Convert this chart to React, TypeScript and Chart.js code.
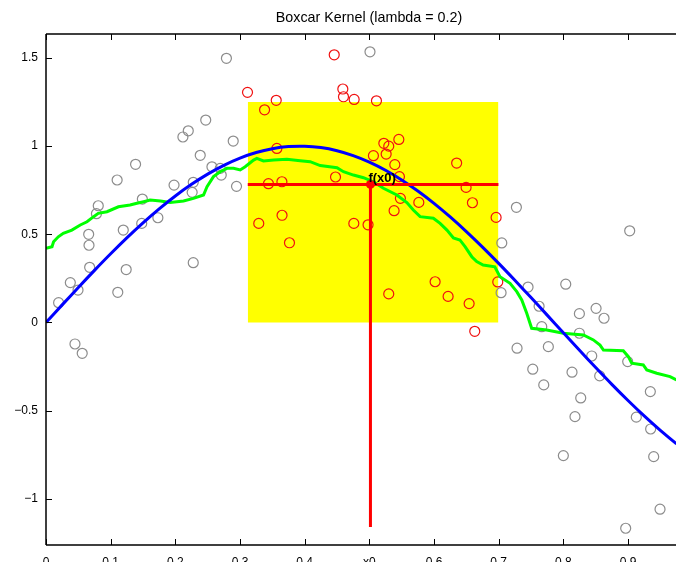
import React, { useEffect, useRef } from "react";
import { Chart, registerables } from "chart.js";

Chart.register(...registerables);

const TITLE = "Boxcar Kernel (lambda = 0.2)";

const X_MIN = 0;
const X_MAX = 0.9742;
const Y_MIN = -1.262;
const Y_MAX = 1.636;

const X_TICKS = [0, 0.1, 0.2, 0.3, 0.4, 0.5, 0.6, 0.7, 0.8, 0.9];
const X_TICK_LABELS = ["0", "0.1", "0.2", "0.3", "0.4", "x0", "0.6", "0.7", "0.8", "0.9"];
const Y_TICKS = [-1, -0.5, 0, 0.5, 1, 1.5];
const Y_TICK_LABELS = ["\u22121", "\u22120.5", "0", "0.5", "1", "1.5"];

// Observations outside the kernel window (gray)
const outsideX = [
  0.0195, 0.0376, 0.0448, 0.0495, 0.056, 0.066, 0.0665, 0.0675, 0.078, 0.0808,
  0.11, 0.111, 0.1195, 0.124, 0.1385, 0.148, 0.149, 0.173, 0.198, 0.2117,
  0.22, 0.226, 0.2277, 0.2277, 0.2385, 0.247, 0.2566, 0.2694, 0.271, 0.279,
  0.2895, 0.2946, 0.501, 0.7048, 0.7037, 0.7274, 0.7284, 0.7454, 0.7527, 0.7625,
  0.7666, 0.7697, 0.7768, 0.8, 0.8037, 0.8134, 0.818, 0.8248, 0.8248, 0.8269,
  0.8439, 0.8506, 0.8562, 0.8629, 0.8964, 0.8995, 0.9026, 0.9128, 0.9345, 0.935,
  0.9397, 0.9495,
];
const outsideY = [
  0.112, 0.226, -0.122, 0.184, -0.175, 0.5, 0.438, 0.313, 0.617, 0.662,
  0.808, 0.171, 0.524, 0.3, 0.897, 0.562, 0.7, 0.594, 0.779, 1.052,
  1.087, 0.738, 0.795, 0.339, 0.948, 1.148, 0.883, 0.874, 0.836, 1.498,
  1.029, 0.772, 1.535, 0.451, 0.169, 0.653, -0.146, 0.201, -0.265, 0.092,
  -0.024, -0.354, -0.137, -0.755, 0.217, -0.282, -0.534, 0.05, -0.061, -0.428,
  -0.19, 0.08, -0.303, 0.024, -1.167, -0.222, 0.52, -0.537, -0.392, -0.604,
  -0.761, -1.059,
];

// Observations inside the kernel window (red)
const insideX = [
  0.3116, 0.329, 0.338, 0.344, 0.356, 0.357, 0.3648, 0.365, 0.3765, 0.4457,
  0.4477, 0.459, 0.46, 0.4765, 0.476, 0.498, 0.5063, 0.511, 0.5224, 0.526,
  0.53, 0.53, 0.5383, 0.5394, 0.5456, 0.5465, 0.548, 0.5765, 0.6017, 0.6218,
  0.635, 0.6496, 0.6543, 0.6594, 0.663, 0.696, 0.6986,
];
const insideY = [
  1.305, 0.562, 1.206, 0.787, 1.26, 0.987, 0.798, 0.608, 0.452, 1.518,
  0.825, 1.324, 1.28, 1.265, 0.562, 0.554, 0.946, 1.257, 1.016, 0.955,
  1.0, 0.162, 0.634, 0.895, 1.038, 0.827, 0.704, 0.681, 0.231, 0.148,
  0.904, 0.766, 0.107, 0.679, -0.05, 0.596, 0.23,
];

// True function (blue curve)
const trueX = [
  0, 0.025, 0.05, 0.075, 0.1, 0.125, 0.15, 0.175, 0.2, 0.225,
  0.25, 0.275, 0.3, 0.325, 0.35, 0.375, 0.4, 0.425, 0.45, 0.475,
  0.5, 0.525, 0.55, 0.575, 0.6, 0.625, 0.65, 0.675, 0.7, 0.725,
  0.75, 0.775, 0.8, 0.825, 0.85, 0.875, 0.9, 0.925, 0.95, 0.975, 1.0,
];
const trueY = [
  0, 0.0998, 0.1987, 0.2955, 0.3894, 0.4794, 0.5646, 0.6442, 0.7174, 0.7833,
  0.8415, 0.8912, 0.932, 0.9636, 0.9854, 0.9975, 0.9996, 0.9917, 0.9738, 0.9463,
  0.9093, 0.8632, 0.8085, 0.7457, 0.6755, 0.5985, 0.5155, 0.4274, 0.335, 0.2392,
  0.1411, 0.0416, -0.0584, -0.1577, -0.2555, -0.3508, -0.4425, -0.5298, -0.6119, -0.6878, -0.7568,
];

// Boxcar kernel smoother (green curve)
const smoothX = [
  0.0, 0.0093, 0.0117, 0.019, 0.0267, 0.04, 0.053, 0.0634, 0.0736, 0.0808,
  0.0943, 0.112, 0.13, 0.1406, 0.151, 0.161, 0.177, 0.192, 0.2127, 0.228,
  0.2436, 0.249, 0.259, 0.2694, 0.2798, 0.29, 0.3003, 0.308, 0.321, 0.326,
  0.3363, 0.352, 0.3725, 0.393, 0.4085, 0.424, 0.45, 0.46, 0.4754, 0.491,
  0.5063, 0.5218, 0.5425, 0.558, 0.568, 0.5785, 0.599, 0.6094, 0.62, 0.63,
  0.64, 0.648, 0.6584, 0.666, 0.676, 0.694, 0.702, 0.7176, 0.728, 0.7357,
  0.7434, 0.751, 0.7743, 0.8, 0.831, 0.8464, 0.8567, 0.862, 0.8927, 0.9005,
  0.9057, 0.9236, 0.929, 0.9444, 0.965, 0.975,
];
const smoothY = [
  0.421, 0.43, 0.458, 0.486, 0.506, 0.524, 0.553, 0.571, 0.6, 0.619,
  0.628, 0.656, 0.666, 0.676, 0.685, 0.694, 0.689, 0.681, 0.689, 0.704,
  0.723, 0.77, 0.827, 0.855, 0.874, 0.874, 0.865, 0.883, 0.921, 0.931,
  0.916, 0.921, 0.925, 0.917, 0.912, 0.89, 0.878, 0.855, 0.836, 0.821,
  0.798, 0.761, 0.723, 0.68, 0.638, 0.6, 0.591, 0.562, 0.524, 0.479,
  0.468, 0.43, 0.373, 0.345, 0.326, 0.316, 0.26, 0.222, 0.175, 0.128,
  0.052, -0.033, -0.043, -0.061, -0.071, -0.099, -0.128, -0.156, -0.16, -0.194,
  -0.231, -0.241, -0.269, -0.288, -0.307, -0.326,
];

const X0 = 0.5017;
const FX0 = 0.783;
const WINDOW = [0.312, 0.6996];
const BOX_TOP = 1.25;
const STEM_BOTTOM = -1.16;
const POINT_LABEL = "f(x0)";

const pairs = (xs: number[], ys: number[]) => xs.map((x, i) => ({ x, y: ys[i] }));

const FONT = "'Liberation Sans', Arial, Helvetica, sans-serif";

const framePlugin = {
  id: "matlabFrame",
  afterDraw(chart: any) {
    const { ctx, chartArea, scales } = chart;
    const { left, right, top, bottom } = chartArea;
    ctx.save();
    ctx.strokeStyle = "#000";
    ctx.lineWidth = 1.5;
    ctx.beginPath();
    ctx.moveTo(left, top);
    ctx.lineTo(left, bottom);
    ctx.moveTo(left, bottom);
    ctx.lineTo(right + 2, bottom);
    ctx.moveTo(left, top);
    ctx.lineTo(right + 2, top);
    ctx.stroke();
    ctx.lineWidth = 1;
    ctx.beginPath();
    const tl = 6;
    X_TICKS.forEach((v) => {
      const px = Math.round(scales.x.getPixelForValue(v)) + 0.5;
      ctx.moveTo(px, bottom);
      ctx.lineTo(px, bottom - tl);
      ctx.moveTo(px, top);
      ctx.lineTo(px, top + tl);
    });
    Y_TICKS.forEach((v) => {
      const py = Math.round(scales.y.getPixelForValue(v)) + 0.5;
      ctx.moveTo(left, py);
      ctx.lineTo(left + tl, py);
    });
    ctx.stroke();

    // point label
    ctx.fillStyle = "#000";
    ctx.font = `bold 13px ${FONT}`;
    ctx.textAlign = "left";
    ctx.textBaseline = "alphabetic";
    ctx.fillText(POINT_LABEL, scales.x.getPixelForValue(X0) - 2, scales.y.getPixelForValue(FX0) - 2);

    // title
    ctx.font = `14.3px ${FONT}`;
    ctx.textAlign = "center";
    ctx.fillText(TITLE, 369, 22);
    ctx.restore();
  },
};

export default function App() {
  const ref = useRef<HTMLCanvasElement | null>(null);
  useEffect(() => {
    document.body.style.margin = "0";
    const canvas = ref.current!;
    const chart = new Chart(canvas, {
      type: "scatter",
      data: {
        datasets: [
          {
            label: "window",
            data: [
              { x: WINDOW[0], y: BOX_TOP },
              { x: WINDOW[1], y: BOX_TOP },
            ],
            showLine: true,
            fill: "origin",
            backgroundColor: "#ffff00",
            borderWidth: 0,
            borderColor: "rgba(0,0,0,0)",
            pointRadius: 0,
            order: 10,
          },
          {
            label: "outside",
            data: pairs(outsideX, outsideY),
            pointStyle: "circle",
            pointRadius: 5,
            borderWidth: 1.2,
            borderColor: "#8c8c8c",
            backgroundColor: "rgba(0,0,0,0)",
            order: 9,
          },
          {
            label: "inside",
            data: pairs(insideX, insideY),
            pointStyle: "circle",
            pointRadius: 5,
            borderWidth: 1.2,
            borderColor: "#f01010",
            backgroundColor: "rgba(0,0,0,0)",
            order: 8,
          },
          {
            label: "smooth",
            data: pairs(smoothX, smoothY),
            showLine: true,
            borderColor: "#00ff00",
            borderWidth: 3,
            pointRadius: 0,
            fill: false,
            order: 7,
          },
          {
            label: "true",
            data: pairs(trueX, trueY),
            showLine: true,
            borderColor: "#0000ff",
            borderWidth: 3,
            pointRadius: 0,
            tension: 0.3,
            fill: false,
            order: 6,
          },
          {
            label: "hline",
            data: [
              { x: WINDOW[0], y: FX0 },
              { x: WINDOW[1], y: FX0 },
            ],
            showLine: true,
            borderColor: "#ff0000",
            borderWidth: 3,
            pointRadius: 0,
            fill: false,
            order: 5,
          },
          {
            label: "stem",
            data: [
              { x: X0, y: FX0 },
              { x: X0, y: STEM_BOTTOM },
            ],
            showLine: true,
            borderColor: "#ff0000",
            borderWidth: 3,
            pointRadius: 0,
            fill: false,
            order: 4,
          },
          {
            label: "fx0",
            data: [{ x: X0, y: FX0 }],
            pointRadius: 4.5,
            backgroundColor: "#ff0000",
            borderColor: "#ff0000",
            borderWidth: 0,
            order: 3,
          },
        ],
      },
      options: {
        animation: false,
        responsive: false,
        devicePixelRatio: 1,
        layout: { autoPadding: false, padding: { top: 34, right: 0, bottom: 0, left: 0 } },
        plugins: {
          legend: { display: false },
          tooltip: { enabled: false },
          title: { display: false },
        },
        scales: {
          x: {
            type: "linear",
            min: X_MIN,
            max: X_MAX,
            grid: { display: false, drawTicks: false, tickLength: 0 },
            border: { display: false },
            afterBuildTicks: (s: any) => {
              s.ticks = X_TICKS.map((v) => ({ value: v }));
            },
            afterFit: (s: any) => {
              s.height = 17;
              s.paddingLeft = 0;
              s.paddingRight = 0;
            },
            ticks: {
              autoSkip: false,
              maxRotation: 0,
              padding: 10,
              color: "#000",
              font: { family: FONT, size: 12 },
              callback: (v: any) => {
                const i = X_TICKS.findIndex((t) => Math.abs(t - v) < 1e-9);
                return i >= 0 ? X_TICK_LABELS[i] : "";
              },
            },
          },
          y: {
            type: "linear",
            min: Y_MIN,
            max: Y_MAX,
            grid: { display: false, drawTicks: false, tickLength: 0 },
            border: { display: false },
            afterBuildTicks: (s: any) => {
              s.ticks = Y_TICKS.map((v) => ({ value: v }));
            },
            afterFit: (s: any) => {
              s.width = 46;
              s.paddingTop = 0;
              s.paddingBottom = 0;
            },
            ticks: {
              autoSkip: false,
              padding: 8,
              color: "#000",
              font: { family: FONT, size: 12 },
              callback: (v: any) => {
                const i = Y_TICKS.findIndex((t) => Math.abs(t - v) < 1e-9);
                return i >= 0 ? Y_TICK_LABELS[i] : "";
              },
            },
          },
        },
      },
      plugins: [framePlugin],
    });
    return () => chart.destroy();
  }, []);
  return (
    <div style={{ position: "absolute", left: 0, top: 0, width: 676, height: 562, background: "#fff" }}>
      <canvas ref={ref} width={676} height={562} style={{ display: "block", width: 676, height: 562 }} />
    </div>
  );
}
